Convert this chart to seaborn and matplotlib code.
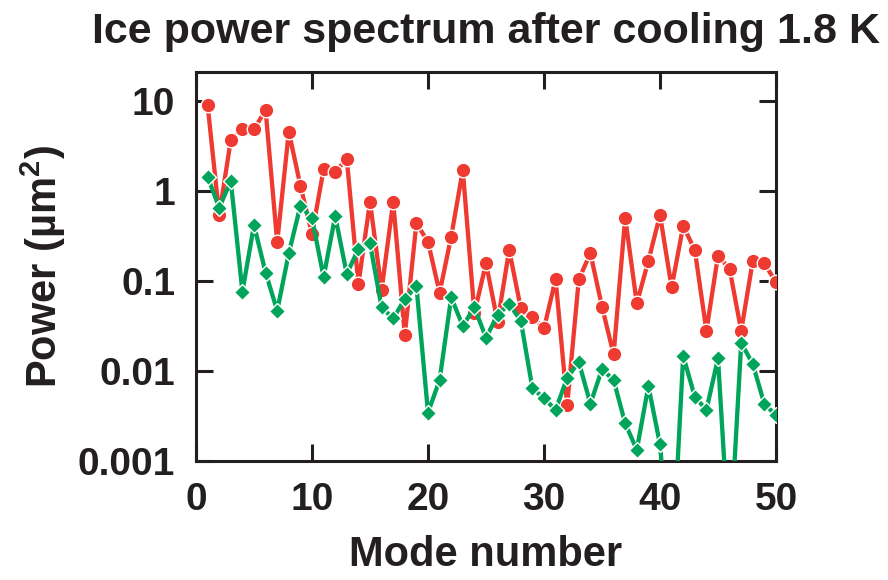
import numpy as np
import pandas as pd
import matplotlib
matplotlib.use("Agg")
import matplotlib.pyplot as plt
import seaborn as sns

# ---- data ----
modes = list(range(1, 51))
red_power = [9.03, 0.541, 3.69, 4.85, 4.85, 7.94, 0.269, 4.56, 1.145, 0.333,
             1.742, 1.626, 2.27, 0.0919, 0.760, 0.0794, 0.760, 0.0251, 0.438, 0.273,
             0.0741, 0.311, 1.71, 0.0441, 0.157, 0.0353, 0.221, 0.0497, 0.0401, 0.0298,
             0.1045, 0.00419, 0.1045, 0.203, 0.0518, 0.0153, 0.505, 0.0565, 0.168, 0.541,
             0.0851, 0.408, 0.221, 0.0280, 0.191, 0.136, 0.0280, 0.168, 0.157, 0.0967]
green_power = [1.44, 0.652, 1.29, 0.0760, 0.419, 0.1237, 0.0468, 0.203, 0.687, 0.497,
               0.1107, 0.527, 0.1196, 0.227, 0.262, 0.0508, 0.0385, 0.0626, 0.0887, 0.00344,
               0.00794, 0.0659, 0.0316, 0.0510, 0.0234, 0.0419, 0.0555, 0.0362, 0.00643, 0.00498,
               0.00369, 0.00843, 0.0126, 0.00432, 0.01045, 0.00794, 0.00262, 0.00133, 0.00681, 0.00153,
               0.00005, 0.0147, 0.00518, 0.00369, 0.01384, 0.0001, 0.0206, 0.01196, 0.00427, 0.00324]
x_ticks = [0, 10, 20, 30, 40, 50]
y_ticks = [0.001, 0.01, 0.1, 1, 10]
y_tick_labels = ["0.001", "0.01", "0.1", "1", "10"]

title = "Ice power spectrum after cooling 1.8 K"
xlabel = "Mode number"
ylabel = "Power (µm$^{2}$)"

RED = "#EE3A31"
GREEN = "#00A55B"
INK = "#231F20"

sns.set_style("ticks")
plt.rcParams["font.family"] = ["Liberation Sans", "DejaVu Sans"]
plt.rcParams["font.weight"] = "bold"
plt.rcParams["mathtext.fontset"] = "custom"
plt.rcParams["mathtext.rm"] = "Liberation Sans:bold"
plt.rcParams["mathtext.bf"] = "Liberation Sans:bold"
plt.rcParams["mathtext.it"] = "Liberation Sans:bold"
plt.rcParams["mathtext.default"] = "bf"

df_red = pd.DataFrame({"mode": modes, "power": red_power})
df_green = pd.DataFrame({"mode": modes, "power": green_power})

fig = plt.figure(figsize=(8.88, 5.80), dpi=100)
ax = fig.add_axes([196 / 888, 1 - 461 / 580, (776 - 196) / 888, (461 - 72) / 580])

sns.lineplot(data=df_red, x="mode", y="power", ax=ax, color=RED, linewidth=3.1,
             marker="o", markersize=10.5, markeredgecolor="white", markeredgewidth=1.0,
             zorder=3)
sns.lineplot(data=df_green, x="mode", y="power", ax=ax, color=GREEN, linewidth=3.1,
             marker="D", markersize=7.8, markeredgecolor="white", markeredgewidth=1.0,
             zorder=4)

ax.set_yscale("log")
ax.set_xlim(0, 50)
ax.set_ylim(0.001, 21)
ax.set_xticks(x_ticks)
ax.set_xticklabels([str(t) for t in x_ticks])
ax.set_yticks(y_ticks)
ax.set_yticklabels(y_tick_labels)
ax.minorticks_off()
ax.yaxis.set_minor_locator(matplotlib.ticker.NullLocator())

for side in ["left", "right", "top", "bottom"]:
    ax.spines[side].set_visible(True)
    ax.spines[side].set_linewidth(2.2)
    ax.spines[side].set_color(INK)

ax.tick_params(axis="both", which="major", direction="in", length=12, width=2.2,
               color=INK, labelsize=28, labelcolor=INK,
               top=True, right=True, pad=15)
for lab in ax.get_xticklabels() + ax.get_yticklabels():
    lab.set_fontweight("bold")

ax.set_xlabel(xlabel, fontsize=30, fontweight="bold", color=INK, labelpad=12)
ax.set_ylabel(ylabel, fontsize=30, fontweight="bold", color=INK, labelpad=7)
ax.set_title(title, fontsize=31, fontweight="bold", color=INK, pad=21)

fig.savefig("out.png", dpi=100)
